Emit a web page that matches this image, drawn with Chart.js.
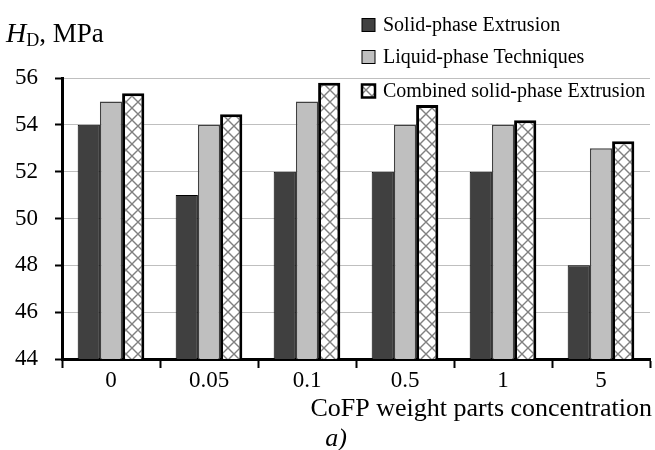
<!doctype html>
<html>
  <head>
    <script src="https://cdn.jsdelivr.net/npm/chart.js@4/dist/chart.umd.min.js"></script>
    <style>
      body { margin: 0; background: #fff; }
      #wrap { width: 655px; height: 450px; }
    </style>
    <script>
      let concentrations = ["0", "0.05", "0.1", "0.5", "1", "5"];
      let solidPhase = [54, 51, 52, 52, 52, 48];
      let liquidPhase = [55, 54, 55, 54, 54, 53];
      let combinedSolid = [55.35, 54.45, 55.8, 54.85, 54.2, 53.3];
      let seriesNames = ["Solid-phase Extrusion", "Liquid-phase Techniques", "Combined solid-phase Extrusion"];
      let yTicks = [44, 46, 48, 50, 52, 54, 56];

      let serif = "'Liberation Serif', 'Times New Roman', serif";

      // white tile with grey diagonal cross hatching
      function hatchPattern(){
        let c = document.createElement("canvas");
        c.width = 12; c.height = 12;
        let g = c.getContext("2d");
        g.fillStyle = "#fff";
        g.fillRect(0, 0, 12, 12);
        g.strokeStyle = "#808080";
        g.lineWidth = 1.4;
        g.beginPath();
        g.moveTo(0, 0); g.lineTo(12, 12);
        g.moveTo(12, 0); g.lineTo(0, 12);
        g.stroke();
        return g.createPattern(c, "repeat");
      }

      // heading, legend and captions drawn on top of the chart
      let textPlugin = {
        id: "texts",
        afterDraw(chart){
          let ctx = chart.ctx;
          ctx.save();
          ctx.fillStyle = "#000";
          ctx.textBaseline = "alphabetic";
          ctx.textAlign = "left";
          ctx.font = "italic 28px " + serif;
          ctx.fillText("H", 6, 42);
          let x = 6 + ctx.measureText("H").width;
          ctx.font = "18px " + serif;
          ctx.fillText("D", x, 46);
          x += ctx.measureText("D").width;
          ctx.font = "27px " + serif;
          ctx.fillText(", MPa", x, 42);

          // legend
          let rows = [25, 57, 91];
          chart.data.datasets.forEach(function(ds, i){
            let y = rows[i];
            ctx.fillStyle = ds.backgroundColor;
            ctx.fillRect(362, y - 6.5, 13, 13);
            ctx.strokeStyle = "#000";
            ctx.lineWidth = i == 2 ? 2.5 : 1;
            ctx.strokeRect(362, y - 6.5, 13, 13);
            ctx.fillStyle = "#000";
            ctx.font = "20px " + serif;
            ctx.textBaseline = "middle";
            ctx.fillText(ds.label, 383, y + 1);
          });

          ctx.textBaseline = "middle";
          ctx.textAlign = "right";
          ctx.font = "26px " + serif;
          ctx.fillText("CoFP weight parts concentration", 652, 409);
          ctx.textAlign = "center";
          ctx.font = "italic 26px " + serif;
          ctx.fillText("a)", 336, 439);
          ctx.restore();
        }
      };

      let chart1;
      function startPage(){
        let hatch = hatchPattern();
        chart1 = new Chart(document.getElementById("c1"), {
          type: "bar",
          data: {
            labels: concentrations,
            datasets: [{
              label: seriesNames[0],
              data: solidPhase,
              backgroundColor: "#404040",
              borderColor: "#000",
              borderWidth: 1
            }, {
              label: seriesNames[1],
              data: liquidPhase,
              backgroundColor: "#bfbfbf",
              borderColor: "#404040",
              borderWidth: 1.5
            }, {
              label: seriesNames[2],
              data: combinedSolid,
              backgroundColor: hatch,
              borderColor: "#000",
              borderWidth: 3
            }]
          },
          options: {
            responsive: false,
            animation: false,
            events: [],
            categoryPercentage: 0.68,
            barPercentage: 1,
            layout: { padding: { top: 78, right: 5, left: 0, bottom: 0 } },
            plugins: {
              legend: { display: false },
              tooltip: { enabled: false }
            },
            scales: {
              x: {
                afterFit(s){ s.height = 91; },
                grid: {
                  offset: true,
                  drawOnChartArea: false,
                  tickLength: 9,
                  tickColor: "#000",
                  tickWidth: 2
                },
                border: { color: "#000", width: 3 },
                ticks: {
                  color: "#000",
                  padding: 1,
                  font: { family: serif, size: 23, lineHeight: 1 }
                }
              },
              y: {
                min: 44,
                max: 56,
                afterFit(s){ s.width = 62; },
                afterBuildTicks(s){ s.ticks = yTicks.map(v => ({ value: v })); },
                grid: {
                  color: "#bfbfbf",
                  lineWidth: 1,
                  tickLength: 7,
                  tickColor: "#000",
                  tickWidth: 2
                },
                border: { color: "#000", width: 3 },
                ticks: {
                  color: "#000",
                  padding: 17,
                  font: { family: serif, size: 23 }
                }
              }
            }
          },
          plugins: [textPlugin]
        });
      }
    </script>
  </head>
  <body onload="startPage()">
    <div id="wrap">
      <canvas id="c1" width="655" height="450"></canvas>
    </div>
  </body>
</html>
